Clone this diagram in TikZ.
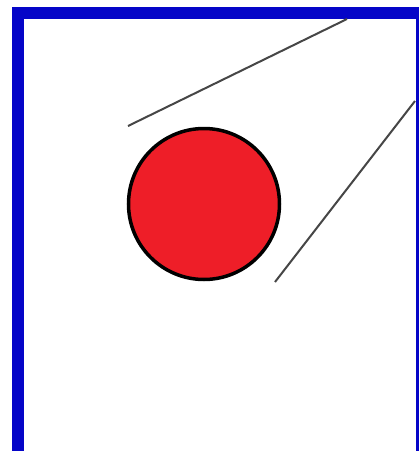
\documentclass[tikz,border=0pt]{standalone}
\usepackage{tikz}
\usetikzlibrary{positioning}
\definecolor{framblue}{RGB}{5,5,200}
\definecolor{ballred}{RGB}{238,30,40}
\definecolor{raygray}{RGB}{70,70,70}
\tikzset{
  frame/.style={draw=framblue, line width=12pt},
  ball/.style={circle, draw=black, line width=3.5pt, fill=ballred,
    minimum size=151pt, inner sep=0pt},
  ray/.style={draw=raygray, line width=2pt},
}
\begin{document}
\begin{tikzpicture}[x=1pt, y=-1pt]
    \useasboundingbox (0,0) rectangle (419,451);
    \fill[white] (0,0) rectangle (419,451);
    \draw[frame] (18,13) rectangle (422,470);
    \node[ball] (sun) at (204,204) {};
    \coordinate (a1) at (128,126);
    \coordinate (a2) at (347,19);
    \coordinate (b1) at (275,282);
    \coordinate (b2) at (415,101);
    \draw[ray] (a1) -- (a2);
    \draw[ray] (b1) -- (b2);
  \end{tikzpicture}
\end{document}
